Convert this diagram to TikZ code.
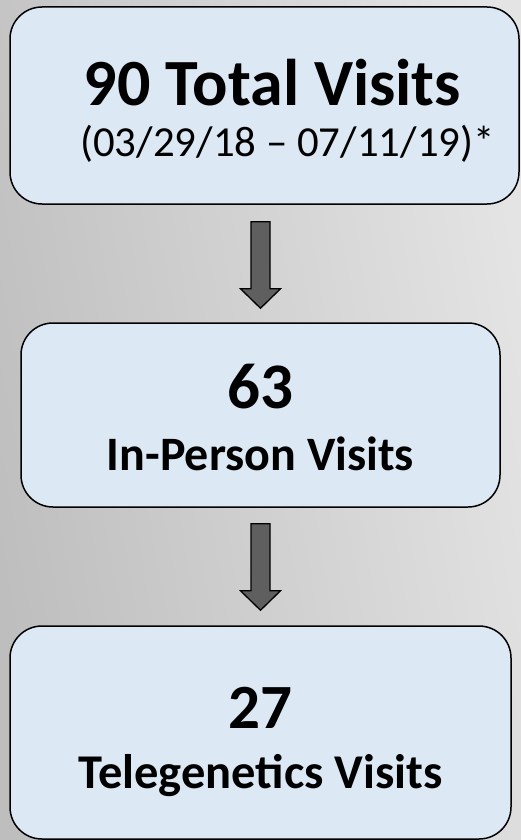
\documentclass[tikz,border=0pt]{standalone}
\usepackage{fontspec}
\setmainfont{Carlito}
\usetikzlibrary{calc}

\definecolor{boxblue}{RGB}{220,232,244}
\definecolor{arrowgray}{RGB}{95,95,95}
\definecolor{bgdark}{RGB}{190,190,190}
\definecolor{bglight}{RGB}{228,228,228}

% invisible struts: height of first line, depth of last line
\newcommand{\tophgt}[1]{\rule{0pt}{#1}}
\newcommand{\botdep}[1]{\rule[-#1]{0pt}{#1}}

\tikzset{
  visitbox/.style={draw=black,line width=1.5pt,fill=boxblue,rounded corners=32pt,
    align=center,inner sep=0pt},
  blockarrow/.style={draw=black,line width=1.3pt,fill=arrowgray,line join=miter}
}

\begin{document}
\begin{tikzpicture}[x=1pt,y=-1pt]

% background
\shade[left color=bgdark,right color=bglight,shading angle=100] (0,0) rectangle (521,840);
\useasboundingbox (0,0) rectangle (521,840);

\node[visitbox,minimum width=509pt,minimum height=197pt,
  font=\fontsize{42.8}{51}\selectfont] (total) at (264.5,105.5)
  {\tophgt{62pt}\hspace*{16pt}{\fontsize{66}{51}\selectfont\bfseries 90 Total Visits}\\
   \hspace*{46pt}(03/29/18 – 07/11/19)*\botdep{12pt}};
\node[visitbox,minimum width=479pt,minimum height=184pt,
  font=\fontsize{48}{62}\selectfont\bfseries] (inperson) at (260.5,415)
  {\tophgt{60pt}{\fontsize{65}{62}\selectfont 63}\\
   In-Person Visits\botdep{12pt}};
\node[visitbox,minimum width=501pt,minimum height=213pt,
  font=\fontsize{48.5}{60}\selectfont\bfseries] (tele) at (260.5,732.5)
  {\tophgt{65.6pt}{\fontsize{63}{60}\selectfont 27}\\
   Telegenetics Visits\botdep{14pt}};

% arrows
\path ($(total.south)!(260.5,0)!(total.south east)$) ++(0,17) coordinate (a1);
\path (inperson.south) ++(0,16) coordinate (a2);
\draw[blockarrow] (a1) ++(-9.5,0) -- ++(19,0) -- ++(0,67) -- ++(10.5,0)
  -- ++(-20,19.5) -- ++(-20,-19.5) -- ++(10.5,0) -- cycle;
\draw[blockarrow] (a2) ++(-9.5,0) -- ++(19,0) -- ++(0,67) -- ++(10.5,0)
  -- ++(-20,19.5) -- ++(-20,-19.5) -- ++(10.5,0) -- cycle;

\end{tikzpicture}
\end{document}
